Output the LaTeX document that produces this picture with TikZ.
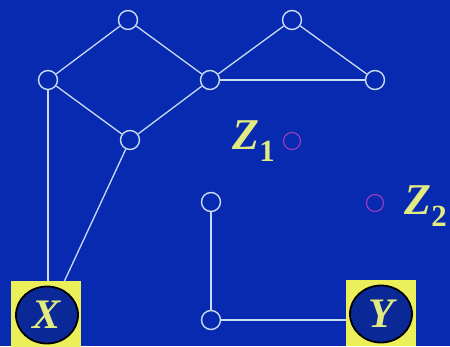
\documentclass[tikz,border=0pt]{standalone}
\usepackage{fontspec}
\setmainfont{Liberation Serif}
\usetikzlibrary{shapes.geometric}
\definecolor{bg}{RGB}{8,42,176}
\definecolor{ln}{RGB}{200,220,245}
\definecolor{yel}{RGB}{235,240,90}
\definecolor{txt}{RGB}{225,235,130}
\definecolor{nav}{RGB}{10,40,150}
\definecolor{pur}{RGB}{160,60,190}
\begin{document}
\begin{tikzpicture}[x=1pt,y=-1pt,
  vtx/.style={circle,draw=ln,line width=1.4pt,minimum size=19pt,inner sep=0pt},
  hid/.style={circle,draw=pur,line width=1.1pt,minimum size=17pt,inner sep=0pt},
  edge/.style={draw=ln,line width=1.3pt},
  obs/.style={rectangle,fill=yel,minimum width=70pt,minimum height=66pt,inner sep=0pt},
  oval/.style={ellipse,draw=black,line width=1.8pt,fill=nav,minimum width=62pt,minimum height=57pt,inner sep=0pt,
    font=\fontsize{42}{42}\selectfont\bfseries\itshape,text=txt},
  lab/.style={font=\fontsize{44}{44}\selectfont\bfseries\itshape,text=txt,inner sep=0pt}]
\fill[bg] (0,0) rectangle (450,346);
\useasboundingbox (0,0) rectangle (450,346);
\node[obs] (xb) at (46,314) {};
\node[obs] (yb) at (381,313) {};
\node[oval] (x) at (47,315) {X};
\node[oval] (y) at (381,314) {Y};
\node[vtx] (a) at (128,20) {};
\node[vtx] (b) at (292,20) {};
\node[vtx] (c) at (48,80) {};
\node[vtx] (d) at (210,80) {};
\node[vtx] (e) at (375,80) {};
\node[vtx] (f) at (130,140) {};
\node[vtx] (g) at (211,202) {};
\node[vtx] (h) at (211,320) {};
\node[hid] (z1) at (292,141) {};
\node[hid] (z2) at (375,203) {};
\node[lab] (l1) at (254,141) {Z\textsubscript{\upshape 1}};
\node[lab] (l2) at (426,206) {Z\textsubscript{\upshape 2}};
\draw[edge] (a) -- (c);
\draw[edge] (a) -- (d);
\draw[edge] (b) -- (d);
\draw[edge] (b) -- (e);
\draw[edge] (d) -- (e);
\draw[edge] (f) -- (c);
\draw[edge] (d) -- (f);
\draw[edge] (c) -- (c |- xb.north);
\draw[edge] (f) -- (64,282);
\draw[edge] (g) -- (h);
\draw[edge] (h) -- (h -| yb.west);
\end{tikzpicture}
\end{document}
